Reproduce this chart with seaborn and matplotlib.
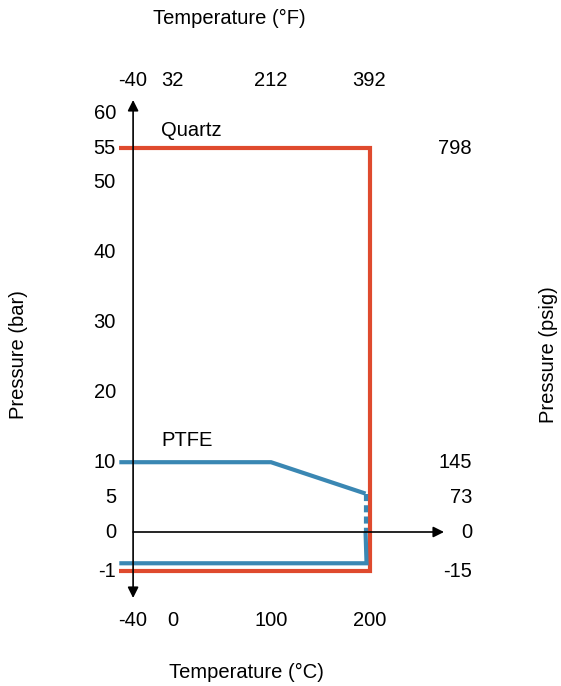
import numpy as np
import pandas as pd
import matplotlib
matplotlib.use("Agg")
import matplotlib.pyplot as plt
import seaborn as sns

# ---- data ----
quartz_temp = [-54, 200, 200, -54]
quartz_bar = [55, 55, -1, -1]

ptfe_temp = [-54, 100, 196]
ptfe_bar = [10, 10, 5.5]
ptfe_dash_temp = [196, 196]
ptfe_dash_bar = [5.5, 0]
ptfe_vac_temp = [196, 197, -54]
ptfe_vac_bar = [0, -0.8, -0.8]

bar_ticks = [60, 55, 50, 40, 30, 20, 10, 5, 0, -1]
psig_ticks = [55, 10, 5, 0, -1]
psig_labels = ["798", "145", "73", "0", "-15"]
c_ticks = [-40, 0, 100, 200]
f_ticks = [-40, 32, 212, 392]

RED = "#DF4A2E"
BLUE = "#3A87B3"

sns.set_style("white")
plt.rcParams["font.family"] = ["Liberation Sans", "DejaVu Sans"]
plt.rcParams["text.color"] = "black"

W, H = 561, 686
fig = plt.figure(figsize=(W / 100, H / 100), dpi=100)
ax = fig.add_axes([0, 0, 1, 1])
ax.axis("off")

K = 5.6  # stretch for vacuum region
ax.set_yscale("function", functions=(lambda y: np.where(y < 0, y * K, y),
                                     lambda y: np.where(y < 0, y / K, y)))
# pixel mapping: x_px = 172.5 + 0.985*T ; y_px = 532 - 6.98*t
ax.set_xlim(-172.5 / 0.985, (W - 172.5) / 0.985)
ax.set_ylim((532 - H) / 6.98 / K, 532 / 6.98)

lw = 3
common = dict(sort=False, estimator=None, ax=ax, linewidth=lw,
              solid_capstyle="butt", solid_joinstyle="miter")

sns.lineplot(x=quartz_temp, y=quartz_bar, color=RED, **common)
sns.lineplot(x=ptfe_temp, y=ptfe_bar, color=BLUE, **common)
sns.lineplot(x=ptfe_dash_temp, y=ptfe_dash_bar, color=BLUE,
             linestyle=(0, (1.7, 1.0)), dash_capstyle="butt",
             sort=False, estimator=None, ax=ax, linewidth=lw)
sns.lineplot(x=ptfe_vac_temp, y=ptfe_vac_bar, color=BLUE, **common)

# axes arrows
ax.annotate("", xy=(-40, (532 - 100) / 6.98), xytext=(-40, -(598 - 532) / 6.98 / K),
            arrowprops=dict(arrowstyle="<|-|>", color="black", lw=1.2,
                            mutation_scale=16, shrinkA=0, shrinkB=0))
ax.annotate("", xy=((444 - 172.5) / 0.985, 0), xytext=(-40, 0),
            arrowprops=dict(arrowstyle="-|>", color="black", lw=1.2,
                            mutation_scale=16, shrinkA=0, shrinkB=0))

fs = 14.5
for v in bar_ticks:
    ax.text((116 - 172.5) / 0.985, v, str(v), ha="right", va="center", fontsize=fs)
for v, lab in zip(psig_ticks, psig_labels):
    ax.text((472 - 172.5) / 0.985, v, lab, ha="right", va="center", fontsize=fs)
y_bottom = -(620 - 532) / 6.98 / K
for v in c_ticks:
    ax.text(v, y_bottom, str(v), ha="center", va="center", fontsize=fs)
y_top = (532 - 80) / 6.98
for f in f_ticks:
    c = (f - 32) * 5 / 9
    ax.text(c, y_top, str(f), ha="center", va="center", fontsize=fs)

ax.text((161 - 172.5) / 0.985, (532 - 130) / 6.98, "Quartz", ha="left", va="center", fontsize=fs)
ax.text((161 - 172.5) / 0.985, (532 - 441) / 6.98, "PTFE", ha="left", va="center", fontsize=fs)

fig.text(229 / W, 1 - 18 / H, "Temperature (°F)", ha="center", va="center", fontsize=fs)
fig.text(246 / W, 1 - 672 / H, "Temperature (°C)", ha="center", va="center", fontsize=fs)
fig.text(18 / W, 1 - 355 / H, "Pressure (bar)", ha="center", va="center", rotation=90, fontsize=fs)
fig.text(548 / W, 1 - 355 / H, "Pressure (psig)", ha="center", va="center", rotation=90, fontsize=fs)

fig.savefig("out.png", dpi=100, facecolor="white")
